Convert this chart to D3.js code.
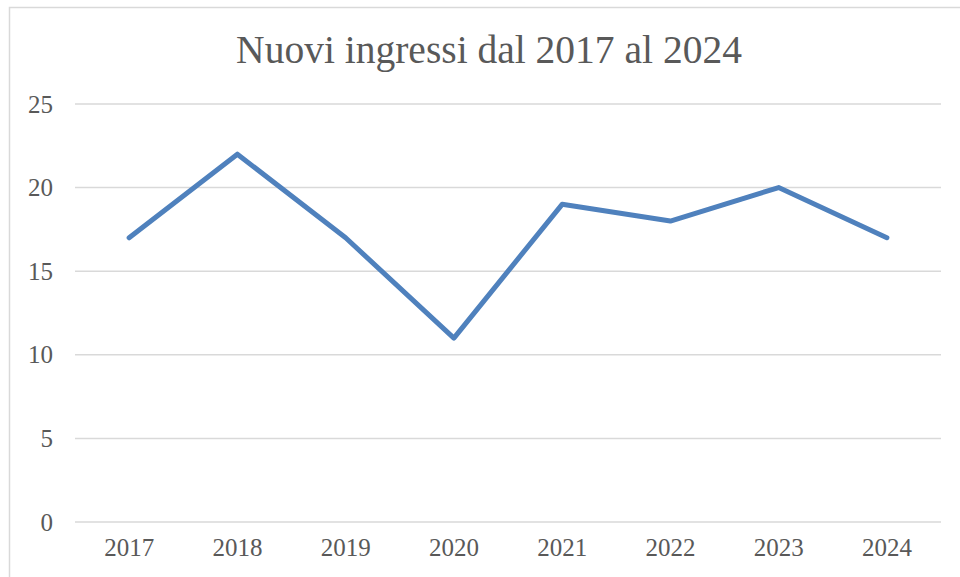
<!DOCTYPE html>
<html lang="it">
<head>
  <meta charset="UTF-8" />
  <title>Nuovi ingressi dal 2017 al 2024</title>
  <script src="https://d3js.org/d3.v7.min.js"></script>
  <style>
    body { margin: 0; background: #fff; }
    svg text { font-family: 'Liberation Serif', serif; fill: #595959; }
  </style>
</head>
<body>
  <div id="chart"></div>
  <script>
    // data
    const years = ["2017", "2018", "2019", "2020", "2021", "2022", "2023", "2024"];
    const ingressi = [17, 22, 17, 11, 19, 18, 20, 17];
    const yTicks = [0, 5, 10, 15, 20, 25];
    const title = "Nuovi ingressi dal 2017 al 2024";

    const width = 960, height = 577;
    const svg = d3.select("#chart").append("svg")
      .attr("width", width)
      .attr("height", height);

    // chart frame (runs off the right and bottom edges)
    svg.append("rect")
      .attr("x", 9.5).attr("y", 7.5)
      .attr("width", 980).attr("height", 600)
      .attr("fill", "#fff")
      .attr("stroke", "#d9d9d9")
      .attr("stroke-width", 1.5);

    const x = d3.scaleBand().domain(years).range([75, 941]);
    const y = d3.scaleLinear().domain([0, 25]).range([522, 104]);

    // gridlines
    svg.append("g")
      .selectAll("line")
      .data(yTicks)
      .join("line")
      .attr("x1", 75).attr("x2", 941)
      .attr("y1", d => y(d)).attr("y2", d => y(d))
      .attr("stroke", "#d9d9d9")
      .attr("stroke-width", 1.5);

    // y axis labels
    const yAxis = d3.axisLeft(y).tickValues(yTicks).tickSize(0).tickPadding(0);
    svg.append("g")
      .attr("transform", "translate(53,0)")
      .call(yAxis)
      .call(g => g.select(".domain").remove())
      .selectAll("text")
      .attr("font-size", 25)
      .attr("font-family", "Liberation Serif")
      .attr("fill", "#595959");

    // x axis labels
    const xAxis = d3.axisBottom(x).tickSize(0).tickPadding(0);
    svg.append("g")
      .attr("transform", "translate(0,538)")
      .call(xAxis)
      .call(g => g.select(".domain").remove())
      .selectAll("text")
      .attr("font-size", 25)
      .attr("font-family", "Liberation Serif")
      .attr("fill", "#595959");

    // line
    const line = d3.line()
      .x((d, i) => x(years[i]) + x.bandwidth() / 2)
      .y(d => y(d));

    svg.append("path")
      .datum(ingressi)
      .attr("d", line)
      .attr("fill", "none")
      .attr("stroke", "#4f81bd")
      .attr("stroke-width", 5)
      .attr("stroke-linejoin", "round")
      .attr("stroke-linecap", "round");

    // title
    svg.append("text")
      .attr("x", 489)
      .attr("y", 63)
      .attr("text-anchor", "middle")
      .attr("font-size", 39.5)
      .text(title);
  </script>
</body>
</html>
